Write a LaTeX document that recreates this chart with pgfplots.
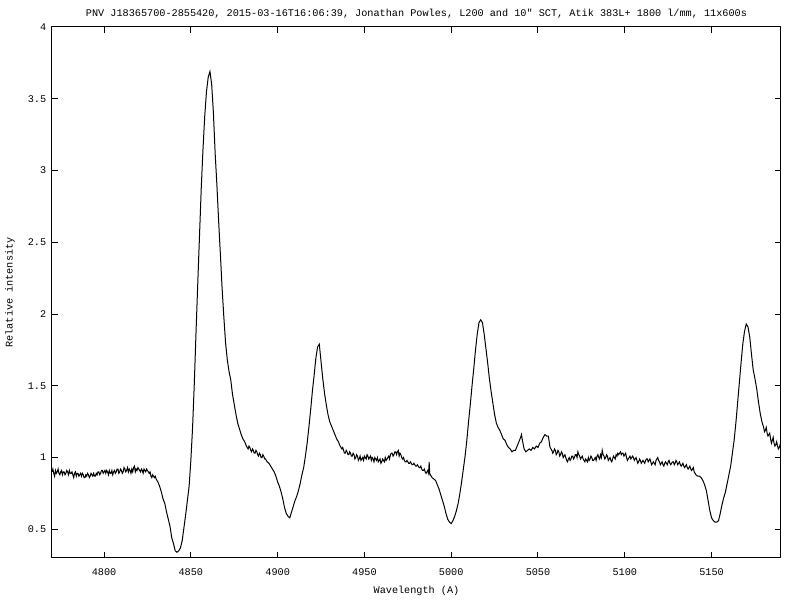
\documentclass[border=0pt]{standalone}
\usepackage{pgfplots}
\pgfplotsset{compat=1.18}
\usepackage{fontspec}
\setmainfont{Liberation Mono}[Ligatures=TeXOff]
\begin{document}
\fontsize{5.1}{6}\selectfont
\begin{tikzpicture}
\useasboundingbox (0pt,0pt) rectangle (400pt,300pt);
\begin{axis}[
  at={(26pt,21pt)}, anchor=south west,
  scale only axis, width=364.5pt, height=265.5pt,
  xmin=4770, xmax=5190, ymin=0.3, ymax=4,
  xtick={4800,4850,...,5150}, ytick={0.5,1,...,4},
  /pgf/number format/1000 sep={},
  /pgf/number format/assume math mode=true,
  scaled ticks=false,
  tick align=inside, major tick length=3pt,
  axis line style={line width=0.5pt},
  every tick/.style={line width=0.5pt, black},
  tick label style={font=\fontsize{5.1}{6}\selectfont},
  xticklabel style={yshift=-3.5pt},
  yticklabel style={xshift=-1pt},
  xlabel={Wavelength (A)}, ylabel={Relative intensity},
  label style={font=\fontsize{5.1}{6}\selectfont},
  xlabel style={at={(0.5,0)}, anchor=center, yshift=-16.5pt},
  ylabel style={at={(0,0.5)}, anchor=center, rotate=0, yshift=21pt},
  title={PNV J18365700-2855420, 2015-03-16T16:06:39, Jonathan Powles, L200 and 10" SCT, Atik 383L+ 1800 l/mm, 11x600s},
  title style={font=\fontsize{5.1}{6}\selectfont, at={(0.5,1)}, anchor=center, yshift=0.5pt},
]
\addplot[black, line width=0.5pt] table {
4770 0.90
4770.5 0.92
4771 0.89
4771.5 0.87
4772 0.91
4772.5 0.89
4773 0.90
4773.5 0.92
4774 0.89
4774.5 0.88
4775 0.90
4775.5 0.91
4776 0.88
4776.5 0.90
4777 0.90
4777.5 0.88
4778 0.89
4778.5 0.91
4779 0.90
4779.5 0.88
4780 0.91
4780.5 0.89
4781 0.89
4781.5 0.90
4782 0.88
4782.5 0.86
4783 0.89
4783.5 0.90
4784 0.87
4784.5 0.89
4785 0.89
4785.5 0.87
4786 0.88
4786.5 0.89
4787 0.87
4787.5 0.89
4788 0.88
4788.5 0.86
4789 0.86
4789.5 0.88
4790 0.87
4790.5 0.89
4791 0.88
4791.5 0.86
4792 0.87
4792.5 0.89
4793 0.88
4793.5 0.87
4794 0.89
4794.5 0.87
4795 0.87
4795.5 0.89
4796 0.88
4796.5 0.90
4797 0.90
4797.5 0.88
4798 0.89
4798.5 0.91
4799 0.91
4799.5 0.89
4800 0.90
4800.5 0.91
4801 0.89
4801.5 0.91
4802 0.90
4802.5 0.88
4803 0.91
4803.5 0.89
4804 0.89
4804.5 0.91
4805 0.88
4805.5 0.90
4806 0.91
4806.5 0.89
4807 0.90
4807.5 0.92
4808 0.92
4808.5 0.89
4809 0.90
4809.5 0.92
4810 0.91
4810.5 0.89
4811 0.90
4811.5 0.93
4812 0.92
4812.5 0.90
4813 0.91
4813.5 0.93
4814 0.90
4814.5 0.92
4815 0.91
4815.5 0.89
4816 0.92
4816.5 0.90
4817 0.93
4817.5 0.94
4818 0.90
4818.5 0.92
4819 0.91
4819.5 0.93
4820 0.92
4820.5 0.91
4821 0.90
4821.5 0.92
4822 0.91
4822.5 0.89
4823 0.92
4823.5 0.91
4824 0.90
4824.5 0.92
4825 0.91
4825.5 0.90
4826 0.89
4826.5 0.90
4827 0.87
4827.5 0.86
4828 0.88
4828.5 0.87
4829 0.86
4829.5 0.87
4830 0.85
4831 0.83
4832 0.80
4833 0.76
4834 0.71
4835 0.68
4836 0.62
4837 0.57
4838 0.52
4839 0.44
4840 0.40
4841 0.35
4842 0.34
4843 0.35
4844 0.37
4845 0.42
4846 0.51
4847 0.60
4848 0.70
4849 0.80
4850 0.98
4851 1.21
4852 1.52
4853 1.88
4854 2.22
4855 2.55
4856 2.88
4857 3.15
4858 3.38
4859 3.55
4860 3.65
4861 3.69
4862 3.60
4863 3.40
4864 3.12
4865 2.90
4866 2.65
4867 2.42
4868 2.18
4869 1.98
4870 1.80
4871 1.68
4872 1.60
4873 1.54
4874 1.44
4875 1.37
4876 1.30
4877 1.24
4878 1.20
4879 1.16
4880 1.13
4881 1.11
4882 1.08
4883 1.06
4883.5 1.08
4884 1.07
4884.5 1.05
4885 1.04
4885.5 1.06
4886 1.05
4886.5 1.03
4887 1.03
4887.5 1.05
4888 1.04
4888.5 1.02
4889 1.01
4889.5 1.03
4890 1.02
4890.5 1.00
4891 1.00
4891.5 1.02
4892 1.01
4892.5 0.99
4893 0.99
4894 0.97
4895 0.96
4896 0.94
4897 0.92
4898 0.90
4899 0.87
4900 0.83
4901 0.80
4902 0.76
4903 0.71
4904 0.65
4905 0.61
4906 0.59
4907 0.58
4908 0.62
4909 0.66
4910 0.70
4911 0.73
4912 0.77
4913 0.82
4914 0.88
4915 0.93
4916 1.01
4917 1.10
4918 1.21
4919 1.33
4920 1.46
4921 1.57
4922 1.69
4923 1.77
4924 1.79
4925 1.67
4926 1.55
4927 1.45
4928 1.37
4929 1.30
4930 1.25
4931 1.22
4932 1.19
4933 1.16
4934 1.13
4935 1.11
4936 1.08
4936.5 1.07
4937 1.06
4937.5 1.07
4938 1.05
4938.5 1.03
4939 1.03
4939.5 1.05
4940 1.04
4940.5 1.02
4941 1.02
4941.5 1.04
4942 1.03
4942.5 1.01
4943 1.01
4943.5 1.03
4944 1.02
4944.5 0.99
4945 1.00
4945.5 1.02
4946 1.01
4946.5 0.98
4947 0.99
4947.5 1.01
4948 0.98
4948.5 0.99
4949 1.00
4949.5 0.98
4950 1.01
4950.5 1.00
4951 0.99
4951.5 1.02
4952 1.01
4952.5 0.99
4953 1.00
4953.5 1.01
4954 0.98
4954.5 1.00
4955 0.99
4955.5 0.97
4956 1.00
4956.5 0.99
4957 0.98
4957.5 1.00
4958 0.97
4958.5 0.98
4959 0.99
4959.5 0.96
4960 0.97
4960.5 0.99
4961 0.98
4961.5 0.97
4962 1.00
4962.5 0.98
4963 0.99
4963.5 1.00
4964 1.01
4964.5 0.99
4965 1.02
4965.5 1.03
4966 1.03
4966.5 1.01
4967 1.02
4967.5 1.04
4968 1.04
4968.5 1.02
4969 1.04
4969.5 1.05
4970 1.01
4970.5 1.03
4971 1.02
4971.5 1.00
4972 0.99
4972.5 1.00
4973 0.98
4973.5 0.97
4974 0.97
4974.5 0.98
4975 0.97
4975.5 0.96
4976 0.96
4976.5 0.97
4977 0.96
4977.5 0.95
4978 0.95
4978.5 0.96
4979 0.95
4979.5 0.94
4980 0.94
4980.5 0.95
4981 0.94
4981.5 0.93
4982 0.93
4982.5 0.94
4983 0.92
4983.5 0.91
4984 0.91
4984.5 0.92
4985 0.90
4985.5 0.89
4986 0.90
4986.5 0.91
4987 0.89
4987.3 0.97
4987.6 0.89
4988 0.88
4989 0.86
4990 0.85
4991 0.84
4992 0.81
4993 0.78
4994 0.74
4995 0.70
4996 0.66
4997 0.61
4998 0.57
4999 0.55
5000 0.54
5001 0.56
5002 0.59
5003 0.63
5004 0.68
5005 0.75
5006 0.83
5007 0.92
5008 1.01
5009 1.12
5010 1.25
5011 1.37
5012 1.50
5013 1.62
5014 1.75
5015 1.86
5016 1.94
5017 1.96
5018 1.94
5019 1.86
5020 1.76
5021 1.66
5022 1.55
5023 1.46
5024 1.38
5025 1.30
5026 1.24
5027 1.21
5028 1.19
5029 1.16
5030 1.13
5031 1.12
5032 1.09
5033 1.07
5034 1.06
5035 1.04
5036 1.05
5037 1.05
5038 1.08
5039 1.11
5040 1.14
5040.5 1.16
5041 1.12
5042 1.06
5043 1.04
5044 1.05
5045 1.06
5046 1.05
5047 1.07
5048 1.06
5049 1.08
5050 1.07
5051 1.10
5052 1.11
5053 1.14
5054 1.16
5055 1.15
5056 1.15
5056.8 1.08
5057 1.07
5058 1.05
5058.5 1.03
5059 1.04
5059.5 1.06
5060 1.05
5060.5 1.02
5061 1.03
5061.5 1.05
5062 1.04
5062.5 1.01
5063 1.02
5063.5 1.04
5064 1.03
5064.5 1.00
5065 1.01
5065.5 1.02
5066 1.00
5066.5 0.98
5067 0.97
5067.5 0.99
5068 1.00
5068.5 0.98
5069 0.99
5069.5 1.01
5070 1.01
5070.5 0.99
5071 1.00
5071.5 1.02
5072 1.02
5072.5 1.00
5073 1.04
5073.5 1.02
5074 1.01
5074.5 0.99
5075 1.00
5075.5 1.01
5076 0.99
5076.5 0.98
5077 0.97
5077.5 0.99
5078 0.98
5078.5 0.97
5079 1.00
5079.5 0.98
5080 0.99
5080.5 1.01
5081 1.00
5081.5 0.98
5082 0.98
5082.5 0.99
5083 1.00
5083.5 0.98
5084 1.01
5084.5 1.02
5085 1.00
5085.5 0.99
5086 1.02
5086.5 1.00
5087 1.05
5087.5 1.02
5088 1.01
5088.5 0.99
5089 1.00
5089.5 1.02
5090 1.01
5090.5 0.98
5091 0.99
5091.5 1.00
5092 0.98
5092.5 0.97
5093 0.99
5093.5 1.01
5094 1.00
5094.5 0.99
5095 1.02
5095.5 1.01
5096 1.03
5096.5 1.02
5097 1.03
5097.5 1.04
5098 1.02
5098.5 1.03
5099 1.03
5099.5 1.01
5100 1.02
5100.5 1.03
5101 1.00
5101.5 0.98
5102 0.99
5102.5 1.00
5103 1.01
5103.5 0.99
5104 1.00
5104.5 1.01
5105 1.00
5105.5 0.98
5106 0.99
5106.5 1.00
5107 0.98
5107.5 0.96
5108 0.97
5108.5 0.99
5109 0.98
5109.5 0.96
5110 0.97
5110.5 0.98
5111 0.97
5111.5 0.96
5112 0.98
5112.5 0.99
5113 0.99
5113.5 0.97
5114 0.98
5114.5 0.99
5115 0.97
5115.5 0.95
5116 0.96
5116.5 0.97
5117 0.96
5117.5 0.95
5118 0.98
5118.5 0.99
5119 1.00
5119.5 0.98
5120 0.97
5120.5 0.95
5121 0.96
5121.5 0.97
5122 0.95
5122.5 0.94
5123 0.96
5123.5 0.97
5124 0.96
5124.5 0.95
5125 0.97
5125.5 0.98
5126 0.96
5126.5 0.95
5127 0.96
5127.5 0.97
5128 0.97
5128.5 0.95
5129 0.96
5129.5 0.98
5130 0.97
5130.5 0.95
5131 0.96
5131.5 0.97
5132 0.95
5132.5 0.94
5133 0.95
5133.5 0.96
5134 0.94
5134.5 0.93
5135 0.94
5135.5 0.95
5136 0.93
5136.5 0.92
5137 0.93
5137.5 0.94
5138 0.92
5138.5 0.91
5139 0.92
5139.5 0.93
5140 0.90
5141 0.88
5142 0.87
5143 0.87
5144 0.86
5145 0.84
5146 0.81
5147 0.77
5148 0.70
5149 0.63
5150 0.58
5151 0.56
5152 0.55
5153 0.55
5154 0.56
5155 0.61
5156 0.67
5157 0.72
5158 0.76
5159 0.82
5160 0.88
5161 0.94
5162 1.03
5163 1.12
5164 1.24
5165 1.38
5166 1.52
5167 1.66
5168 1.79
5169 1.88
5170 1.93
5171 1.91
5172 1.84
5173 1.72
5174 1.61
5175 1.55
5176 1.48
5177 1.39
5178 1.31
5179 1.25
5180 1.21
5180.5 1.18
5181 1.19
5181.5 1.21
5182 1.17
5182.5 1.15
5183 1.16
5183.5 1.17
5184 1.13
5184.5 1.10
5185 1.12
5185.5 1.14
5186 1.10
5186.5 1.08
5187 1.09
5187.5 1.11
5188 1.08
5188.5 1.06
5189 1.07
5189.5 1.09
5190 1.06
};
\end{axis}
\end{tikzpicture}
\end{document}
